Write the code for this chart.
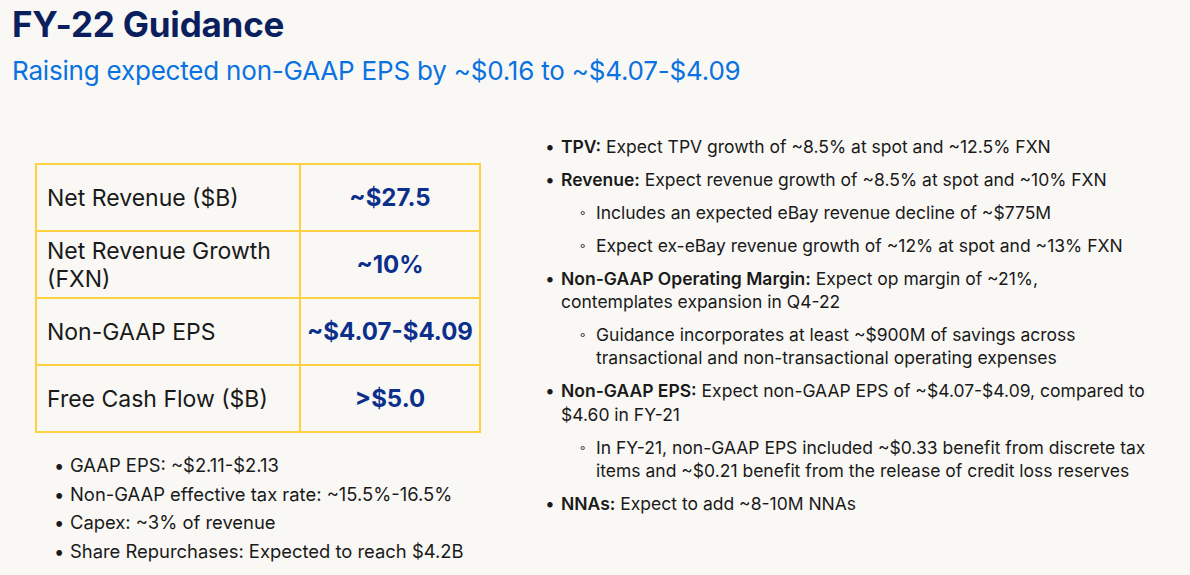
<!DOCTYPE html>
<html>
<head>
<meta charset="utf-8">
<script src="https://cdn.jsdelivr.net/npm/chart.js@4.4.0/dist/chart.umd.min.js"></script>
<style>
  html, body { margin: 0; padding: 0; }
  body { width: 1190px; height: 575px; background: #f9f8f5; font-family: Inter, "Noto Sans", sans-serif; color: #1a1a1a; position: relative; overflow: hidden; }
  #title { position: absolute; left: 12px; top: 3px; font-size: 35px; font-weight: 700; color: #0b1f5e; letter-spacing: -0.2px; }
  #subtitle { position: absolute; left: 12px; top: 55px; font-size: 26px; color: #0a72e0; letter-spacing: -0.2px; }
  #guide { position: absolute; left: 35px; top: 163px; border-collapse: collapse; }
  #guide td { border: 2px solid #ffd140; height: 65px; padding: 0; font-size: 23px; line-height: 25px; }
  #guide td.lab { width: 252px; padding-left: 10px; }
  #guide td.lab span { display: block; line-height: 28px; }
  #guide td.val { width: 178px; text-align: center; font-weight: 700; font-size: 24px; color: #0d2f8c; }
  ul { list-style: none; margin: 0; padding: 0; position: absolute; }
  #notes { left: 54px; top: 451px; font-size: 18.4px; line-height: 28.7px; }
  #notes li, #points li { position: relative; padding-left: 16px; }
  #notes li::before, #points li.top::before { content: "\2022"; position: absolute; left: 0; }
  #points { left: 545px; top: 135px; font-size: 17.5px; line-height: 23.5px; }
  #points li { margin-bottom: 9.4px; }
  #points li.sub { padding-left: 51px; }
  #points li.sub::before { content: "\25E6"; position: absolute; left: 34px; font-size: 13px; }
  b { font-weight: 600; }
</style>
</head>
<body>
<div id="title"></div>
<div id="subtitle"></div>
<table id="guide"></table>
<ul id="notes"></ul>
<ul id="points"></ul>
<script>
var titleText = "FY-22 Guidance";
var subtitleText = "Raising expected non-GAAP EPS by ~$0.16 to ~$4.07-$4.09";

// each label is a list of its lines
var metricLabels = [["Net Revenue ($B)"], ["Net Revenue Growth", "(FXN)"], ["Non-GAAP EPS"], ["Free Cash Flow ($B)"]];
var metricValues = ["~$27.5", "~10%", "~$4.07-$4.09", ">$5.0"];

var noteLines = [
  "GAAP EPS: ~$2.11-$2.13",
  "Non-GAAP effective tax rate: ~15.5%-16.5%",
  "Capex: ~3% of revenue",
  "Share Repurchases: Expected to reach $4.2B"
];

// level 0 = main bullet, 1 = sub bullet
var pointLevels = [0, 0, 1, 1, 0, 1, 0, 1, 0];
var pointHeads = ["TPV:", "Revenue:", "", "", "Non-GAAP Operating Margin:", "", "Non-GAAP EPS:", "", "NNAs:"];
var pointTexts = [
  "Expect TPV growth of ~8.5% at spot and ~12.5% FXN",
  "Expect revenue growth of ~8.5% at spot and ~10% FXN",
  "Includes an expected eBay revenue decline of ~$775M",
  "Expect ex-eBay revenue growth of ~12% at spot and ~13% FXN",
  "Expect op margin of ~21%,<br>contemplates expansion in Q4-22",
  "Guidance incorporates at least ~$900M of savings across<br>transactional and non-transactional operating expenses",
  "Expect non-GAAP EPS of ~$4.07-$4.09, compared to<br>$4.60 in FY-21",
  "In FY-21, non-GAAP EPS included ~$0.33 benefit from discrete tax<br>items and ~$0.21 benefit from the release of credit loss reserves",
  "Expect to add ~8-10M NNAs"
];

document.getElementById("title").textContent = titleText;
document.getElementById("subtitle").textContent = subtitleText;

var table = document.getElementById("guide");
metricLabels.forEach(function (lines, i) {
  var tr = document.createElement("tr");
  var lab = document.createElement("td");
  lab.className = "lab";
  lines.forEach(function (l) {
    var s = document.createElement("span");
    s.textContent = l;
    lab.appendChild(s);
  });
  var val = document.createElement("td");
  val.className = "val";
  val.textContent = metricValues[i];
  tr.appendChild(lab);
  tr.appendChild(val);
  table.appendChild(tr);
});

var notes = document.getElementById("notes");
noteLines.forEach(function (t) {
  var li = document.createElement("li");
  li.textContent = t;
  notes.appendChild(li);
});

var points = document.getElementById("points");
pointTexts.forEach(function (t, i) {
  var li = document.createElement("li");
  li.className = pointLevels[i] ? "sub" : "top";
  li.innerHTML = (pointHeads[i] ? "<b>" + pointHeads[i] + "</b> " : "") + t;
  points.appendChild(li);
});
</script>
</body>
</html>
